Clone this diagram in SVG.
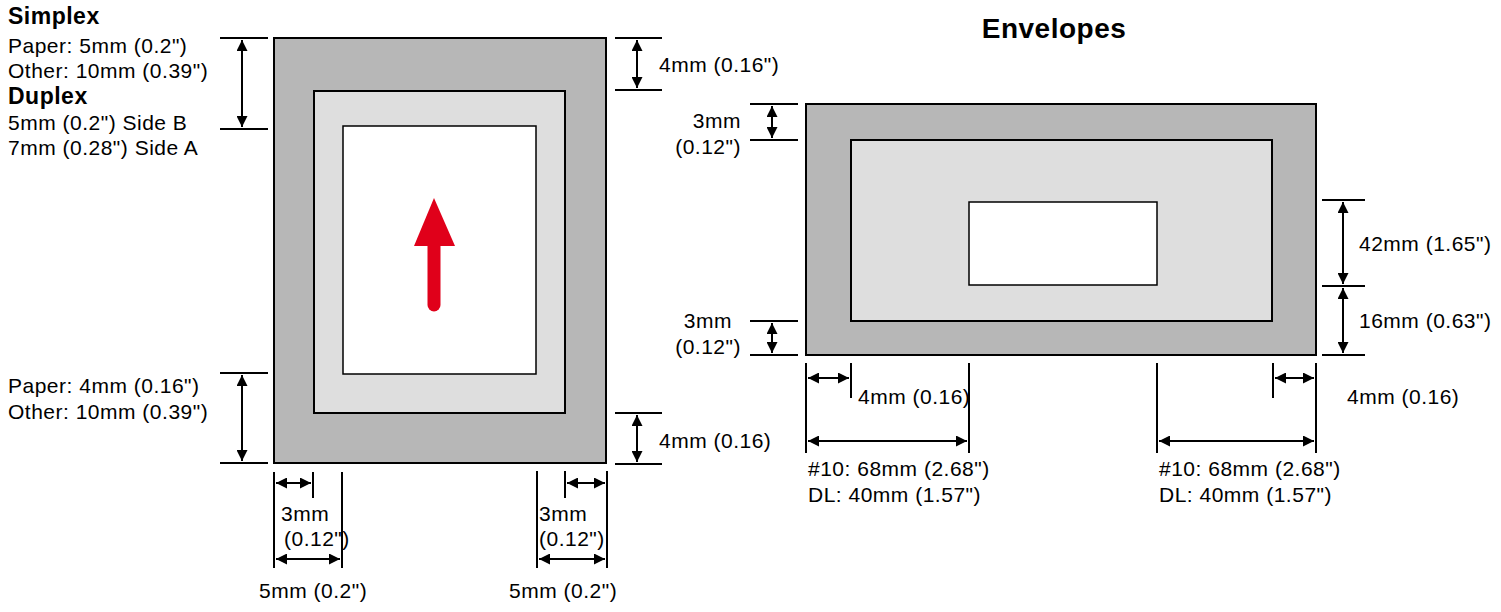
<svg xmlns="http://www.w3.org/2000/svg" width="1501" height="612" viewBox="0 0 1501 612">
<defs>
<marker id="a" viewBox="0 0 10 10" refX="10" refY="5" markerWidth="5.5" markerHeight="5.5" orient="auto-start-reverse"><path d="M0,0L10,5L0,10z" fill="#000"/></marker>
<style>
text{font-family:"Liberation Sans",Arial,sans-serif;font-size:21px;fill:#000;letter-spacing:0.5px}
.b{font-weight:bold;font-size:23px}
.h{font-weight:bold;font-size:28px}
.l{stroke:#000;stroke-width:2;fill:none}
.d{stroke:#000;stroke-width:2;fill:none;marker-start:url(#a);marker-end:url(#a)}
.o{fill:#b7b7b7;stroke:#000;stroke-width:2}
.m{fill:#dedede;stroke:#000;stroke-width:2}
.w{fill:#fff;stroke:#000;stroke-width:1.5}
</style>
</defs>
<rect width="1501" height="612" fill="#fff"/>
<g id="page">
<rect class="o" x="274" y="38" width="332" height="425"/>
<rect class="m" x="314" y="91" width="251" height="322"/>
<rect class="w" x="343" y="126" width="193" height="248"/>
<line x1="434" y1="240" x2="434" y2="305" stroke="#e0001a" stroke-width="13" stroke-linecap="round"/>
<polygon points="414,246 455,246 434,198" fill="#e0001a"/>
</g>
<g id="envelope">
<rect class="o" x="806" y="104" width="510" height="251"/>
<rect class="m" x="851" y="140" width="421" height="181"/>
<rect class="w" x="969" y="202" width="188" height="83"/>
</g>
<g id="connectors">
<path class="l" d="M220,38H268M220,129H268M220,373H268M220,463H268M615,38H662M615,90H662M615,413H662M615,464H662"/>
<line class="d" x1="242" y1="40" x2="242" y2="127"/>
<line class="d" x1="242" y1="375" x2="242" y2="461"/>
<line class="d" x1="637" y1="40" x2="637" y2="88"/>
<line class="d" x1="637" y1="415" x2="637" y2="462"/>
<path class="l" d="M274,472V568M342,472V568M313,472V498M537,471V568M565,471V498M607,471V568"/>
<line class="d" x1="276" y1="483" x2="311" y2="483"/>
<line class="d" x1="276" y1="559" x2="340" y2="559"/>
<line class="d" x1="567" y1="483" x2="605" y2="483"/>
<line class="d" x1="539" y1="559" x2="605" y2="559"/>
<path class="l" d="M750,104H798M750,140H798M750,321H798M750,355H798M1322,200H1365M1322,286H1365M1322,355H1365"/>
<line class="d" x1="772" y1="106" x2="772" y2="138"/>
<line class="d" x1="772" y1="323" x2="772" y2="353"/>
<line class="d" x1="1343" y1="202" x2="1343" y2="284"/>
<line class="d" x1="1343" y1="288" x2="1343" y2="353"/>
<path class="l" d="M806,363V453M851,363V398M969,363V453M1157,363V453M1273,363V398M1316,363V453"/>
<line class="d" x1="808" y1="378" x2="849" y2="378"/>
<line class="d" x1="808" y1="441" x2="967" y2="441"/>
<line class="d" x1="1275" y1="378" x2="1314" y2="378"/>
<line class="d" x1="1159" y1="441" x2="1314" y2="441"/>
</g>
<g id="labels">
<text class="b" x="8" y="24">Simplex</text>
<text x="8" y="53">Paper: 5mm (0.2")</text>
<text x="8" y="78">Other: 10mm (0.39")</text>
<text class="b" x="8" y="104">Duplex</text>
<text x="8" y="130">5mm (0.2") Side B</text>
<text x="8" y="155">7mm (0.28") Side A</text>
<text x="8" y="393">Paper: 4mm (0.16")</text>
<text x="8" y="419">Other: 10mm (0.39")</text>
<text x="659" y="72">4mm (0.16")</text>
<text x="659" y="448">4mm (0.16)</text>
<text x="281" y="521">3mm</text>
<text x="284" y="546">(0.12")</text>
<text x="539" y="521">3mm</text>
<text x="539" y="546">(0.12")</text>
<text x="259" y="598">5mm (0.2")</text>
<text x="509" y="598">5mm (0.2")</text>
<text class="h" x="1054" y="38" text-anchor="middle">Envelopes</text>
<text x="741" y="128" text-anchor="end">3mm</text>
<text x="741" y="154" text-anchor="end">(0.12")</text>
<text x="732" y="328" text-anchor="end">3mm</text>
<text x="741" y="354" text-anchor="end">(0.12")</text>
<text x="1359" y="251">42mm (1.65")</text>
<text x="1359" y="328">16mm (0.63")</text>
<text x="858" y="404">4mm (0.16)</text>
<text x="1347" y="404">4mm (0.16)</text>
<text x="808" y="476">#10: 68mm (2.68")</text>
<text x="808" y="502">DL: 40mm (1.57")</text>
<text x="1159" y="476">#10: 68mm (2.68")</text>
<text x="1159" y="502">DL: 40mm (1.57")</text>
</g>
</svg>
